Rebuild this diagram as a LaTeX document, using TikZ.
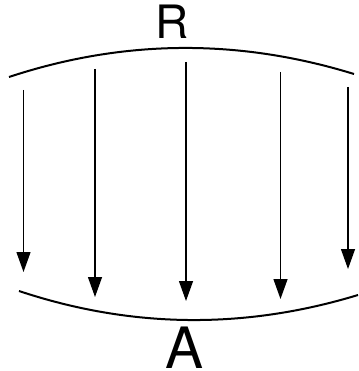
\documentclass[tikz,border=0pt]{standalone}
\usepackage{fontspec}
\setmainfont{TeX Gyre Heros}
\usetikzlibrary{arrows.meta}
\begin{document}
\begin{tikzpicture}[x=1pt,y=-1pt,
  arc/.style={line width=2pt},
  ray/.style={line width=1.3pt,-{Triangle[length=20pt,width=14pt]}},
  lbl/.style={inner sep=0pt,anchor=base}]
\useasboundingbox (0,0) rectangle (358,371);
% arcs
\coordinate (tl) at (9,77);
\coordinate (tr) at (354,74);
\coordinate (bl) at (19,291);
\coordinate (br) at (358,295);
\draw[arc] (tl) .. controls (123,39.3) and (238,38.3) .. (tr);
\draw[arc] (bl) .. controls (131,328.3) and (244,329.7) .. (br);
% labels
\node[lbl,font=\fontsize{46}{46}\selectfont] (R) at (172,39) {R};
\node[lbl,font=\fontsize{57}{57}\selectfont] (A) at (184.5,368) {A};
% rays
\coordinate (s1) at (23.5,90);  \coordinate (e1) at (23.5,272);
\coordinate (s2) at (95,69);    \coordinate (e2) at (95,297);
\coordinate (s3) at (186,62);   \coordinate (e3) at (186,301);
\coordinate (s4) at (280.5,72); \coordinate (e4) at (280.5,299);
\coordinate (s5) at (348,87);   \coordinate (e5) at (348,269);
\foreach \i in {1,...,5} \draw[ray] (s\i) -- (e\i);
\end{tikzpicture}
\end{document}
